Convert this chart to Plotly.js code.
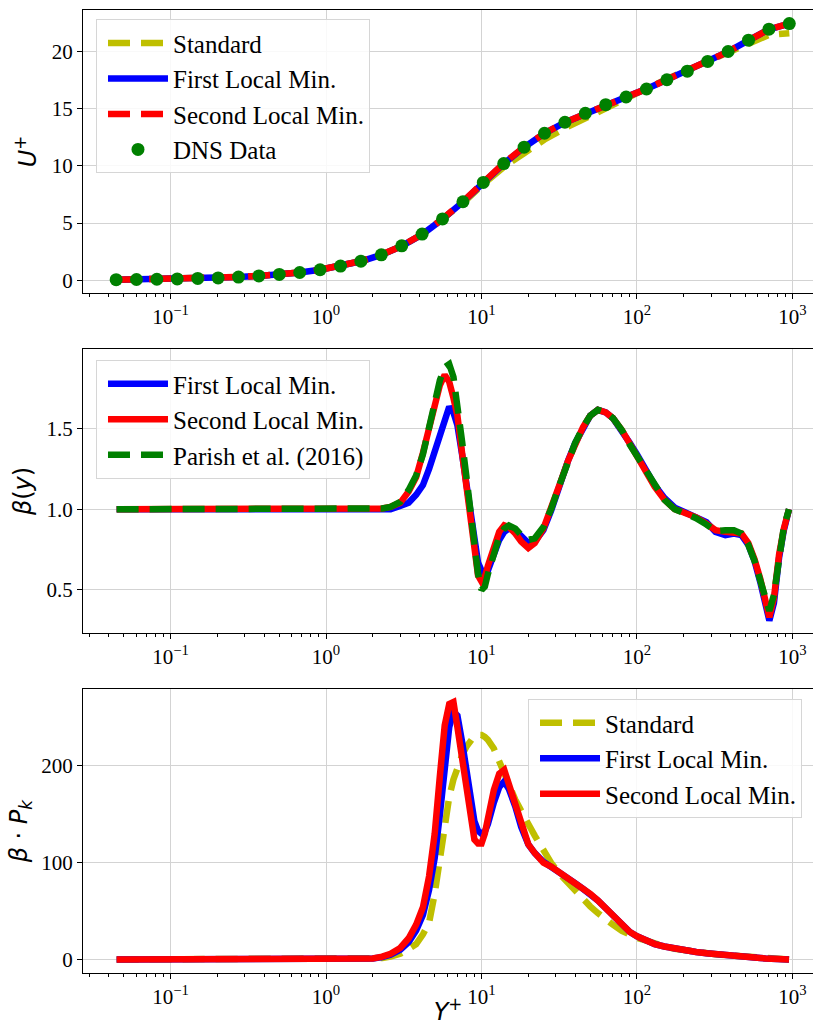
<!DOCTYPE html>
<html><head><meta charset="utf-8">
<script src="https://cdn.plot.ly/plotly-3.0.1.min.js"></script>
<style>html,body{margin:0;padding:0;background:#fff;overflow:hidden}#chart{width:813px;height:1026px}</style>
</head><body><div id="chart"></div>
<script>
// ---- Panel 1: mean velocity profile ----
const yPlusDNS = [0.0447,0.0604,0.0817,0.1105,0.1496,0.2023,0.2736,0.3701,0.5006,0.6772,0.916,1.239,1.676,2.268,3.068,4.150,5.614,7.594,10.27,13.90,18.79,25.42,34.39,46.52,62.93,85.11,115.1,155.7,210.7,285.0,385.5,521.5,705.4,954.1];
const uDNS      = [0.045,0.06,0.08,0.11,0.15,0.2,0.27,0.37,0.5,0.67,0.91,1.23,1.66,2.22,3.0,4.03,5.36,6.86,8.55,10.2,11.63,12.85,13.81,14.59,15.35,16.02,16.72,17.53,18.28,19.13,20.0,20.99,21.95,22.44];
const uFirst    = [0.045,0.06,0.08,0.11,0.15,0.2,0.27,0.37,0.5,0.67,0.91,1.22,1.65,2.21,2.98,4.0,5.33,6.85,8.52,10.18,11.62,12.84,13.8,14.58,15.35,16.03,16.73,17.53,18.28,19.12,19.99,20.98,21.93,22.43];
const uSecond   = [0.045,0.06,0.08,0.11,0.15,0.2,0.27,0.37,0.5,0.67,0.91,1.23,1.66,2.22,2.99,4.02,5.35,6.87,8.56,10.22,11.64,12.85,13.8,14.58,15.34,16.02,16.72,17.52,18.27,19.12,19.99,20.98,21.94,22.44];
const uStandard = [0.045,0.06,0.08,0.11,0.15,0.2,0.27,0.37,0.5,0.67,0.91,1.23,1.66,2.22,2.99,4.0,5.3,6.75,8.4,9.9,11.1,12.3,13.3,14.2,15.05,15.9,16.75,17.6,18.4,19.2,20.0,20.8,21.45,21.6];

// ---- Panels 2 & 3: common wall-distance grid ----
const yPlus = [0.045,0.1,0.3,1.0,1.5,2.0,2.3,2.6,3.0,3.4,
  3.8,4.2,4.6,5.0,5.4,5.8,6.2,6.6,7.0,7.5,
  8.0,8.5,9.0,9.5,10.0,10.5,11.0,12,13,14,
  15,16.5,18,20,22,25,28,32,36,40,
  45,50,56,63,70,80,90,100,115,130,
  150,175,200,240,280,320,370,420,470,520,
  570,620,670,710,760,820,880,950];

const betaFirst = [1,1,1,1,1,1,1,1,1.02,1.04,
  1.09,1.15,1.25,1.36,1.46,1.56,1.635,1.6,1.52,1.34,
  1.15,0.95,0.78,0.67,0.62,0.6,0.62,0.72,0.81,0.86,
  0.88,0.87,0.83,0.79,0.8,0.87,0.99,1.16,1.3,1.41,
  1.51,1.58,1.616,1.6,1.565,1.49,1.41,1.34,1.24,1.15,
  1.07,1.01,0.985,0.955,0.92,0.86,0.84,0.85,0.84,0.78,
  0.68,0.55,0.4,0.31,0.42,0.7,0.87,1.0];
const betaSecond = [1,1,1,1,1,1,1.005,1.015,1.04,1.11,
  1.2,1.35,1.5,1.67,1.77,1.833,1.79,1.69,1.58,1.35,
  1.12,0.9,0.71,0.59,0.552,0.58,0.65,0.77,0.86,0.9,
  0.89,0.85,0.8,0.76,0.79,0.88,1.0,1.16,1.3,1.41,
  1.51,1.58,1.616,1.6,1.565,1.49,1.4,1.33,1.23,1.14,
  1.06,1.0,0.98,0.95,0.91,0.87,0.86,0.86,0.85,0.79,
  0.69,0.57,0.42,0.33,0.45,0.72,0.88,1.0];
const betaParish = [1,1,1,1,1,1,1.005,1.015,1.045,1.12,
  1.21,1.34,1.5,1.67,1.8,1.88,1.9,1.82,1.66,1.42,
  1.2,0.96,0.75,0.6,0.5,0.52,0.6,0.73,0.83,0.88,
  0.9,0.88,0.84,0.81,0.82,0.89,1.0,1.16,1.3,1.41,
  1.51,1.58,1.616,1.6,1.565,1.49,1.4,1.33,1.23,1.14,
  1.06,1.0,0.975,0.945,0.905,0.865,0.87,0.87,0.85,0.78,
  0.68,0.56,0.44,0.37,0.47,0.73,0.89,1.0];

const pkStandard = [0,0,0,0,0.1,0.6,1.5,3,6,11,
  16,26,38,68,105,140,168,186,199,211,
  220,227,231,232,232,230,227,218,206,194,
  181,165,152,140,128,112,100,88,79,71,
  62,55,48,41,36,29.5,25.5,22.5,19.5,16,
  13.5,11.2,9.7,7.8,6.5,5.4,4.5,3.7,3,2.5,
  2,1.6,1.1,0.9,0.6,0.4,0.2,0];
const pkFirst = [0,0,0,0,0.2,1.0,2.5,5,10,18,
  30,46,72,105,150,200,240,256,252,225,
  195,165,143,133,130,132,140,162,178,184,
  176,158,137,119,110,101,96,90,84,79,
  73,68,61,53,46,37,28.5,24,19.5,16,
  13.5,11.2,9.7,7.8,6.5,5.4,4.5,3.7,3,2.5,
  2,1.6,1.1,0.9,0.6,0.4,0.2,0];
const pkSecond = [0,0,0,0,0.2,1.2,3,6,12,22,
  36,54,86,130,190,242,264,266,240,206,
  172,146,124,120,120,130,146,175,192,196,
  181,160,138,119,110,100,96,90,84,79,
  73,68,61,53,46,37,28.5,24,19.5,16,
  13.5,11.2,9.7,7.8,6.5,5.4,4.5,3.7,3,2.5,
  2,1.6,1.1,0.9,0.6,0.4,0.2,0];

// ---- tick labels ----
const xTickVals = [0.1,1,10,100,1000];
const xTickText = ['10<sup>\u22121</sup>','10<sup>0</sup>','10<sup>1</sup>','10<sup>2</sup>','10<sup>3</sup>'];
const uTicks = [0,5,10,15,20];
const betaTicks = [0.5,1.0,1.5];
const betaTickText = ['0.5','1.0','1.5'];
const pkTicks = [0,100,200];

const minorVals = [];
[0.01,0.1,1,10,100].forEach(d => { for (let m = 2; m <= 9; m++) minorVals.push(m*d); });

const C = {y:'#bfbf00', b:'#0000ff', r:'#ff0000', g:'#008000'};
const DASH = '22px,11px';
const LW = 6.5;

const traces = [
  {x:yPlusDNS, y:uStandard, xaxis:'x', yaxis:'y', name:'Standard', mode:'lines', line:{color:C.y, width:LW, dash:DASH}, legend:'legend'},
  {x:yPlusDNS, y:uFirst, xaxis:'x', yaxis:'y', name:'First Local Min.', mode:'lines', line:{color:C.b, width:LW}, legend:'legend'},
  {x:yPlusDNS, y:uSecond, xaxis:'x', yaxis:'y', name:'Second Local Min.', mode:'lines', line:{color:C.r, width:LW, dash:DASH}, legend:'legend'},
  {x:yPlusDNS, y:uDNS, xaxis:'x', yaxis:'y', name:'DNS Data', mode:'markers', marker:{color:C.g, size:13}, legend:'legend'},

  {x:yPlus, y:betaFirst, xaxis:'x2', yaxis:'y2', name:'First Local Min.', mode:'lines', line:{color:C.b, width:LW}, legend:'legend2'},
  {x:yPlus, y:betaSecond, xaxis:'x2', yaxis:'y2', name:'Second Local Min.', mode:'lines', line:{color:C.r, width:LW}, legend:'legend2'},
  {x:yPlus, y:betaParish, xaxis:'x2', yaxis:'y2', name:'Parish et al. (2016)', mode:'lines', line:{color:C.g, width:LW, dash:DASH}, legend:'legend2'},

  {x:yPlus, y:pkStandard, xaxis:'x3', yaxis:'y3', name:'Standard', mode:'lines', line:{color:C.y, width:LW, dash:DASH}, legend:'legend3'},
  {x:yPlus, y:pkFirst, xaxis:'x3', yaxis:'y3', name:'First Local Min.', mode:'lines', line:{color:C.b, width:LW}, legend:'legend3'},
  {x:yPlus, y:pkSecond, xaxis:'x3', yaxis:'y3', name:'Second Local Min.', mode:'lines', line:{color:C.r, width:LW}, legend:'legend3'}
];

const tickFont = {family:'Liberation Serif, Times New Roman, serif', size:21, color:'#000'};
const titleFont = {family:'DejaVu Sans, sans-serif', size:24, color:'#000'};
const GRID = '#d3d3d3';

function xAx(anchor, withTitle) {
  const a = {
    type:'log', range:[-1.563, 3.132], anchor:anchor,
    tickmode:'array', tickvals:xTickVals, ticktext:xTickText,
    ticks:'outside', ticklen:5, tickwidth:1, tickcolor:'#000',
    showline:true, linecolor:'#000', linewidth:1, mirror:true,
    showgrid:true, gridcolor:GRID, gridwidth:1, zeroline:false,
    tickfont:tickFont, automargin:false,
    minor:{tickmode:'array', tickvals:minorVals, ticks:'outside', ticklen:3, tickwidth:1, tickcolor:'#000', showgrid:false}
  };
  if (withTitle) a.title = {text:'<i>Y</i><sup>+</sup>', font:titleFont, standoff:15};
  return a;
}
function yAx(anchor, domain, range, vals, text, title, standoff) {
  const a = {
    anchor:anchor, domain:domain, range:range,
    tickmode:'array', tickvals:vals,
    ticks:'outside', ticklen:5, tickwidth:1, tickcolor:'#000',
    showline:true, linecolor:'#000', linewidth:1, mirror:false,
    showgrid:true, gridcolor:GRID, gridwidth:1, zeroline:false,
    tickfont:tickFont, automargin:false,
    title:{text:title, font:titleFont, standoff:standoff}
  };
  if (text) a.ticktext = text;
  return a;
}
const legFont = {family:'Liberation Serif, Times New Roman, serif', size:25, color:'#000'};
function leg(x, y) {
  return {x:x, y:y, xanchor:'left', yanchor:'top', xref:'paper', yref:'paper',
    bgcolor:'rgba(255,255,255,0.85)', bordercolor:'#d6d6d6', borderwidth:1,
    font:legFont, itemwidth:60, indentation:6, tracegroupgap:0};
}

const layout = {
  width:813, height:1026,
  margin:{l:83, r:0, t:10, b:53},
  paper_bgcolor:'#fff', plot_bgcolor:'#fff',
  showlegend:true,
  xaxis: xAx('y', false),
  xaxis2: xAx('y2', false),
  xaxis3: xAx('y3', true),
  yaxis: yAx('x', [0.7061, 1.0], [-1.125, 23.63], uTicks, null, '<i>U</i><sup>+</sup>', 8),
  yaxis2: yAx('x2', [0.3534, 0.6477], [0.235, 1.992], betaTicks, betaTickText, '<i>\u03B2</i>(<i>y</i>)', 8),
  yaxis3: yAx('x3', [0.0, 0.2946], [-13.9, 279.2], pkTicks, null, '<i>\u03B2</i> \u00B7 <i>P</i><sub><i>k</i></sub>', 6),
  legend: leg(0.0178, 0.9905),
  legend2: leg(0.0178, 0.6365),
  legend3: leg(0.6096, 0.2845)
};

Plotly.newPlot('chart', traces, layout, {displayModeBar:false, staticPlot:true});
</script></body></html>
